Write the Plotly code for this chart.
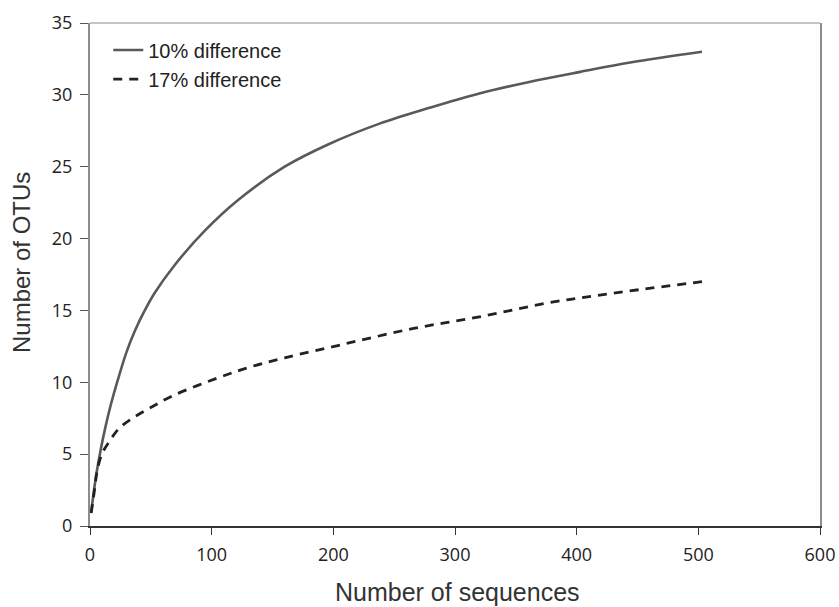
import plotly.graph_objects as go

# Rarefaction curves: OTUs observed vs. sequences sampled
seq_10 = [1, 5, 9, 13, 17, 23, 30, 37, 45, 53, 70, 95, 122, 160, 197, 238, 279, 320,
          361, 403, 444, 503]
otu_10 = [1.0, 3.5, 5.4, 7.0, 8.4, 10.2, 12.1, 13.6, 15.0, 16.2, 18.2, 20.6, 22.7, 25.0,
          26.6, 28.0, 29.1, 30.1, 30.9, 31.6, 32.25, 33.0]

seq_17 = [1, 4, 6, 10, 16, 24, 35, 49, 69, 105, 133, 160, 211, 266, 320, 375, 430, 503]
otu_17 = [0.9, 2.7, 3.9, 5.05, 5.9, 6.8, 7.5, 8.2, 9.1, 10.3, 11.1, 11.7, 12.7, 13.75,
          14.55, 15.5, 16.2, 17.0]

x_ticks = [0, 100, 200, 300, 400, 500, 600]
y_ticks = [0, 5, 10, 15, 20, 25, 30, 35]

fig = go.Figure()
fig.add_trace(go.Scatter(
    x=seq_10, y=otu_10, mode="lines", name="10% difference",
    line=dict(color="#595959", width=2.6, shape="spline", smoothing=1.0),
))
fig.add_trace(go.Scatter(
    x=seq_17, y=otu_17, mode="lines", name="17% difference",
    line=dict(color="#222222", width=2.8, dash="9px,7px", shape="spline", smoothing=1.0),
))

tick_font = dict(family="Open Sans", size=18, color="#222222")
title_font = dict(family="Liberation Sans, Arial", size=25, color="#333333")

fig.update_layout(
    width=839, height=607,
    margin=dict(l=90, r=19, t=23, b=81),
    paper_bgcolor="white", plot_bgcolor="white",
    showlegend=True,
    legend=dict(
        x=0.025, y=0.985, xanchor="left", yanchor="top",
        font=dict(family="Liberation Sans, Arial", size=20, color="#222222"),
        bgcolor="rgba(0,0,0,0)", borderwidth=0, tracegroupgap=0,
    ),
    xaxis=dict(
        range=[0, 600], tickvals=x_ticks, ticktext=[str(v) for v in x_ticks],
        showgrid=False, zeroline=False, automargin=False,
        showline=True, linecolor="#333333", linewidth=1.5,
        ticks="outside", ticklen=7, tickcolor="#333333", tickwidth=1,
        tickfont=tick_font, ticklabelstandoff=5,
    ),
    yaxis=dict(
        range=[0, 35], tickvals=y_ticks, ticktext=[str(v) for v in y_ticks],
        showgrid=False, zeroline=False, automargin=False,
        showline=True, linecolor="#8c8c8c", linewidth=2, mirror=True,
        ticks="outside", ticklen=8, tickcolor="#555555", tickwidth=1,
        tickfont=tick_font, ticklabelstandoff=4,
    ),
    shapes=[
        dict(type="line", xref="paper", yref="paper", x0=0, x1=1, y0=1, y1=1,
             line=dict(color="#8c8c8c", width=1.2)),
    ],
    annotations=[
        dict(text="Number of sequences", xref="paper", yref="paper",
             x=0.504, y=-0.131, xanchor="center", yanchor="middle",
             showarrow=False, font=title_font),
        dict(text="Number of OTUs", xref="paper", yref="paper",
             x=-0.093, y=0.523, xanchor="center", yanchor="middle", textangle=-90,
             showarrow=False, font=dict(family="Liberation Sans, Arial", size=24,
                                        color="#333333")),
    ],
)

fig.write_html("out.html")
